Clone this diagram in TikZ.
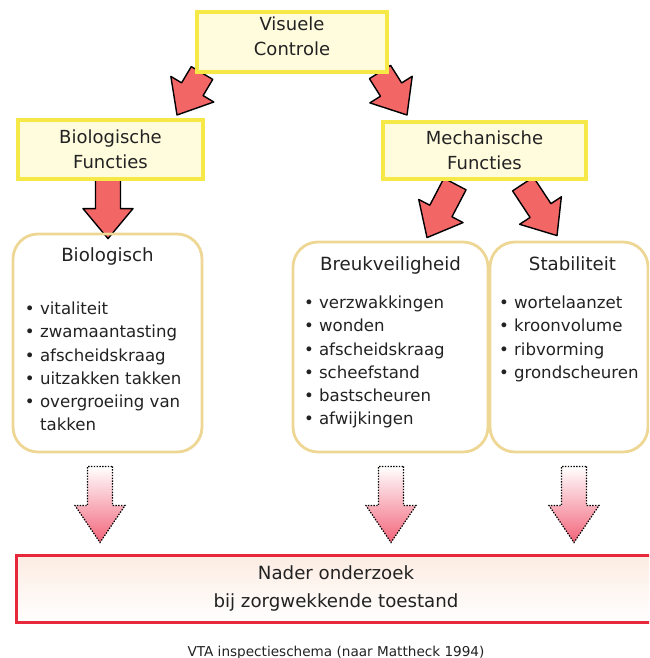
\documentclass[tikz,border=0pt]{standalone}
\usepackage{fontspec}
\setmainfont{DejaVu Sans}
\usepackage{tikz}
\usetikzlibrary{positioning, calc, backgrounds}
\definecolor{boxyellow}{RGB}{246,232,70}
\definecolor{boxcream}{RGB}{255,252,222}
\definecolor{roundtan}{RGB}{238,214,148}
\definecolor{arrowred}{RGB}{242,102,102}
\definecolor{arrowpink}{RGB}{242,100,122}
\definecolor{framered}{RGB}{230,40,58}
\definecolor{framepeach}{RGB}{252,236,226}
\definecolor{inkgray}{RGB}{34,34,34}
\newcommand{\boxfont}{\fontsize{9}{12.5}\selectfont}
% fat arrow from tail (#2) to tip (#3), head length #4
\newcommand{\fatarrow}[4][]{%
    \path ($(#3)!#4!(#2)$) coordinate (fa-base);
    \path[#1] ($(#2)!6.25pt!90:(#3)$) -- ($(fa-base)!6.25pt!90:(#3)$) -- ($(fa-base)!12.5pt!90:(#3)$) -- (#3)
        -- ($(fa-base)!12.5pt!-90:(#3)$) -- ($(fa-base)!6.25pt!-90:(#3)$) -- ($(#2)!6.25pt!-90:(#3)$) -- cycle;
}

\begin{document}
\begin{tikzpicture}[x=0.5pt,y=-0.5pt,every node/.style={text=inkgray},
    topbox/.style={draw=boxyellow,line width=2pt,fill=boxcream,align=center,font=\boxfont,inner sep=0pt},
    roundbox/.style={draw=roundtan,line width=1.4pt,rounded corners=12.5pt,inner sep=0pt},
    boxtitle/.style={anchor=base,font=\fontsize{9.1}{11}\selectfont,inner sep=0pt},
    itemlist/.style={anchor=base west,align=left,font=\fontsize{8.3}{11.6}\selectfont,inner sep=0pt},
    bigarrow/.style={fill=arrowred,draw=black,line width=0.7pt,line join=round},
    dotarrow/.style={draw=black,line width=0.6pt,dash pattern=on 0.7pt off 0.7pt,top color=white,middle color=arrowpink!25,bottom color=arrowpink}]
    \clip[use as bounding box] (0,0) rectangle (649,658);

    % question boxes
    \node[topbox,minimum width=95pt,minimum height=30pt,
        label={[align=center,font=\boxfont,yshift=3pt]center:Visuele\\Controle}] (vc) at (292,42) {};
    \node[topbox,minimum width=92.5pt,minimum height=29.5pt] (bf) at (110.5,149.5) {Biologische\\Functies};
    \node[topbox,minimum width=101.5pt,minimum height=28.5pt] (mf) at (484.5,150.5) {Mechanische\\Functies};

    % checklists (base = last line)
    \node[roundbox,minimum width=94.5pt,minimum height=109pt] (bio) at (107.5,343) {};
    \node[roundbox,minimum width=97.5pt,minimum height=105pt] (breuk) at (390.5,347) {};
    \node[roundbox,minimum width=79pt,minimum height=105pt] (stab) at (569,347) {};
    \node[boxtitle] (bio-title) at ([shift={(0,29)}]bio.north) {Biologisch};
    \node[boxtitle] (breuk-title) at ([shift={(0,30)}]breuk.north) {Breukveiligheid};
    \node[boxtitle] (stab-title) at ([shift={(3.5,30)}]stab.north) {Stabiliteit};
    \node[itemlist] (bio-list) at ([shift={(13,198)}]bio.north west) {%
        \textbullet\ vitaliteit\\ \textbullet\ zwamaantasting\\ \textbullet\ afscheidskraag\\
        \textbullet\ uitzakken takken\\ \textbullet\ overgroeiing van\\ \hphantom{\textbullet\ }takken};
    \node[itemlist] (breuk-list) at ([shift={(12,184)}]breuk.north west) {%
        \textbullet\ verzwakkingen\\ \textbullet\ wonden\\ \textbullet\ afscheidskraag\\
        \textbullet\ scheefstand\\ \textbullet\ bastscheuren\\ \textbullet\ afwijkingen};
    \node[itemlist] (stab-list) at ([shift={(10,137.6)}]stab.north west) {%
        \textbullet\ wortelaanzet\\ \textbullet\ kroonvolume\\ \textbullet\ ribvorming\\ \textbullet\ grondscheuren};

    % conclusion
    \node[draw=framered,line width=1.5pt,top color=framepeach,bottom color=white,minimum width=320pt,minimum height=33.5pt,
        align=center,font=\fontsize{9.1}{14}\selectfont] (nader) at (336,588.5) {Nader onderzoek\\bij zorgwekkende toestand};
    \node[below=8pt of nader,font=\fontsize{6.8}{8}\selectfont] (caption) {VTA inspectieschema (naar Mattheck 1994)};

    \begin{scope}[on background layer]
        \coordinate (vc-l) at ([shift={(7,-1)}]vc.south west);
        \coordinate (vc-r) at ([shift={(-9,-2)}]vc.south east);
        \coordinate (bf-in) at ([shift={(66.5,-3)}]bf.north);
        \coordinate (mf-in) at ([shift={(-77.5,-5)}]mf.north);
        \coordinate (bf-out) at ([shift={(-2.5,-2)}]bf.south);
        \coordinate (bio-in) at ([shift={(0.5,6)}]bio.north);
        \coordinate (mf-l) at ([shift={(-29.5,3)}]mf.south);
        \coordinate (mf-r) at ([shift={(38.5,3)}]mf.south);
        \coordinate (breuk-in) at ([shift={(36.5,-3)}]breuk.north);
        \coordinate (stab-in) at ([shift={(-12,-5)}]stab.north);
        \fatarrow[bigarrow]{vc-l}{bf-in}{15pt}
        \fatarrow[bigarrow]{vc-r}{mf-in}{15pt}
        \fatarrow[bigarrow]{bf-out}{bio-in}{15pt}
        \fatarrow[bigarrow]{mf-l}{breuk-in}{15pt}
        \fatarrow[bigarrow]{mf-r}{stab-in}{15pt}
        \foreach \src/\dx in {bio/-7.5,breuk/0.5,stab/5} {
            \coordinate (\src-out) at ([shift={(\dx,13)}]\src.south);
            \coordinate (\src-down) at ([shift={(0,-11)}]\src-out |- nader.north);
            \fatarrow[dotarrow]{\src-out}{\src-down}{18.5pt}
        }
    \end{scope}
\end{tikzpicture}
\end{document}
